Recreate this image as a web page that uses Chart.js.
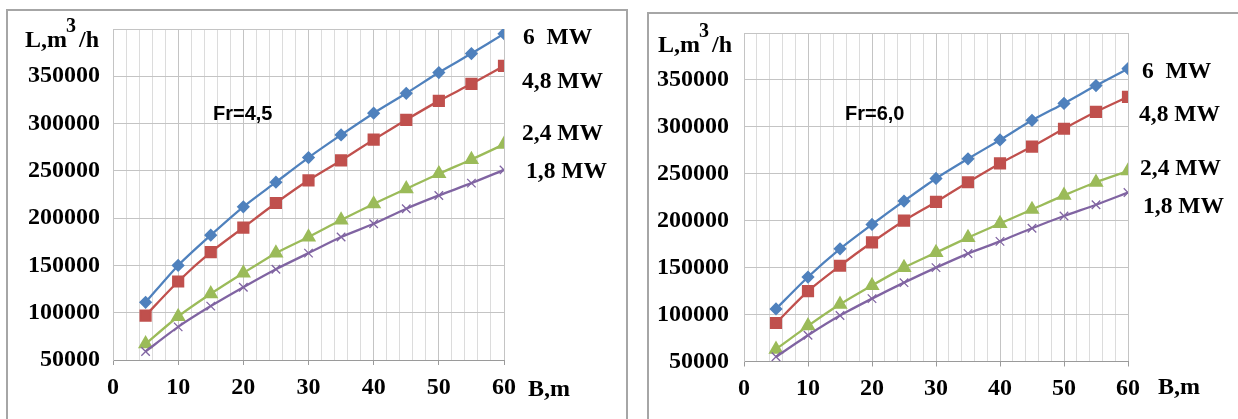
<!DOCTYPE html>
<html lang="en">
<head>
    <meta charset="UTF-8">
    <title>L(B) charts</title>
    <style>
        body { margin: 0; background: #fff; }
        #wrap { position: relative; width: 1238px; height: 419px; overflow: hidden; }
        .box { position: absolute; border: 2px solid #a6a6a6; border-bottom: none; }
        canvas { position: absolute; top: 0; }
        .lbl {
            position: absolute;
            font-family: "Liberation Serif", serif;
            font-weight: bold;
            font-size: 23.5px;
            line-height: 1;
            white-space: pre;
            color: #000;
        }
        .axt { font-size: 24px; }
        .axt .sup { font-size: 20px; position: relative; top: -15px; margin-left: -1px; margin-right: 3px; }
        .fr {
            position: absolute;
            font-family: "Liberation Sans", sans-serif;
            font-weight: bold;
            font-size: 20px;
            line-height: 1;
        }
    </style>
</head>
<body>
<div id="wrap">
    <div class="box" style="left:6px; top:9px; width:618px; height:420px;"></div>
    <div class="box" style="left:647px; top:12px; width:620px; height:420px; border-right:none;"></div>

    <canvas id="left" width="626" height="419" style="left:0px"></canvas>
    <canvas id="right" width="618" height="419" style="left:620px"></canvas>

    <!-- left chart texts -->
    <div class="lbl axt" style="left:25px; top:27px;">L,m<span class="sup">3</span>/h</div>
    <div class="lbl axt" style="left:528px; top:376px;">B,m</div>
    <div class="fr" style="left:213px; top:103px;">Fr=4,5</div>
    <div class="lbl" style="left:523px; top:25px;">6  MW</div>
    <div class="lbl" style="left:522px; top:69px;">4,8 MW</div>
    <div class="lbl" style="left:522px; top:121px;">2,4 MW</div>
    <div class="lbl" style="left:526px; top:159px;">1,8 MW</div>

    <!-- right chart texts -->
    <div class="lbl axt" style="left:658px; top:32px;">L,m<span class="sup">3</span>/h</div>
    <div class="lbl axt" style="left:1158px; top:374px;">B,m</div>
    <div class="fr" style="left:845px; top:103px;">Fr=6,0</div>
    <div class="lbl" style="left:1142px; top:59px;">6  MW</div>
    <div class="lbl" style="left:1139px; top:102px;">4,8 MW</div>
    <div class="lbl" style="left:1140px; top:156px;">2,4 MW</div>
    <div class="lbl" style="left:1143px; top:194px;">1,8 MW</div>
</div>

<script src="https://cdn.jsdelivr.net/npm/chart.js"></script>
<script>
    // B, m
    const bValues = [5, 10, 15, 20, 25, 30, 35, 40, 45, 50, 55, 60];

    // Fr = 4,5
    const p6_fr45  = [111000, 150000, 182000, 212000, 238000, 264000, 288000, 311000, 332000, 354000, 374000, 395000];
    const p48_fr45 = [97000, 133000, 164000, 190000, 216000, 240000, 261000, 283000, 304000, 324000, 342000, 361000];
    const p24_fr45 = [67000, 96000, 120000, 142000, 163000, 180000, 198000, 215000, 231000, 247000, 262000, 278000];
    const p18_fr45 = [59000, 85000, 107000, 127000, 146000, 163000, 180000, 194000, 210000, 224000, 237000, 251000];

    // Fr = 6,0
    const p6_fr60  = [106000, 140000, 170000, 196000, 221000, 245000, 266000, 286000, 307000, 325000, 344000, 362000];
    const p48_fr60 = [91000, 125000, 152000, 177000, 200000, 220000, 241000, 261000, 279000, 298000, 316000, 332000];
    const p24_fr60 = [63000, 88000, 111000, 131000, 150000, 166000, 182000, 197000, 212000, 227000, 241000, 253000];
    const p18_fr60 = [55000, 78000, 99000, 117000, 134000, 150000, 165000, 178000, 192000, 205000, 217000, 230000];

    // axes
    const xMin = 0, xMax = 60, xStep = 2, xLabelStep = 10;
    const yMin = 50000, yMax = 400000, yStep = 50000;

    const tickFont = { family: 'Liberation Serif', weight: 'bold', size: 24 };

    function points(ys) {
        return bValues.map((b, i) => ({ x: b, y: ys[i] }));
    }

    function makeChart(id, s6, s48, s24, s18, box) {
        const line = { showLine: true, borderWidth: 2.3, tension: 0.25, fill: false };
        new Chart(document.getElementById(id), {
            type: 'scatter',
            data: {
                datasets: [
                    { ...line, label: '1,8 MW', data: points(s18), borderColor: '#8064A2', backgroundColor: '#8064A2',
                      pointStyle: 'crossRot', pointRadius: 6, pointBorderWidth: 1.3 },
                    { ...line, label: '2,4 MW', data: points(s24), borderColor: '#9BBB59', backgroundColor: '#9BBB59',
                      pointStyle: 'triangle', pointRadius: 6.5 },
                    { ...line, label: '4,8 MW', data: points(s48), borderColor: '#C0504D', backgroundColor: '#C0504D',
                      pointStyle: 'rect', pointRadius: 7 },
                    { ...line, label: '6 MW', data: points(s6), borderColor: '#4F81BD', backgroundColor: '#4F81BD',
                      pointStyle: 'rectRot', pointRadius: 5 }
                ]
            },
            options: {
                responsive: false,
                animation: false,
                devicePixelRatio: 1,
                layout: { padding: { left: 0, right: box.right, top: box.top, bottom: 0 } },
                plugins: { legend: { display: false }, tooltip: { enabled: false } },
                scales: {
                    x: {
                        type: 'linear',
                        min: xMin, max: xMax,
                        afterFit: s => { s.height = box.xh; },
                        ticks: {
                            stepSize: xStep, autoSkip: false, maxRotation: 0, padding: 8,
                            color: '#000', font: tickFont,
                            callback: v => (v % xLabelStep === 0 ? String(v) : '')
                        },
                        grid: {
                            color: c => (c.tick && c.tick.value % xLabelStep === 0 ? '#c4c4c4' : '#dcdcdc'),
                            tickColor: c => (c.tick && c.tick.value % xLabelStep === 0 ? '#9a9a9a' : 'rgba(0,0,0,0)'),
                            tickLength: 5
                        },
                        border: { color: '#9a9a9a', width: 1 }
                    },
                    y: {
                        min: yMin, max: yMax,
                        afterFit: s => { s.width = box.yw; },
                        ticks: {
                            stepSize: yStep, padding: box.ypad,
                            color: '#000', font: tickFont,
                            callback: v => (v === yMax ? '' : String(v))
                        },
                        grid: { color: '#c4c4c4', drawTicks: false },
                        border: { color: '#c4c4c4', width: 1 }
                    }
                }
            }
        });
    }

    makeChart('left', p6_fr45, p48_fr45, p24_fr45, p18_fr45,
        { right: 122, top: 29, xh: 59, yw: 113, ypad: 13 });
    makeChart('right', p6_fr60, p48_fr60, p24_fr60, p18_fr60,
        { right: 110, top: 33, xh: 57.5, yw: 124, ypad: 15 });
</script>
</body>
</html>
